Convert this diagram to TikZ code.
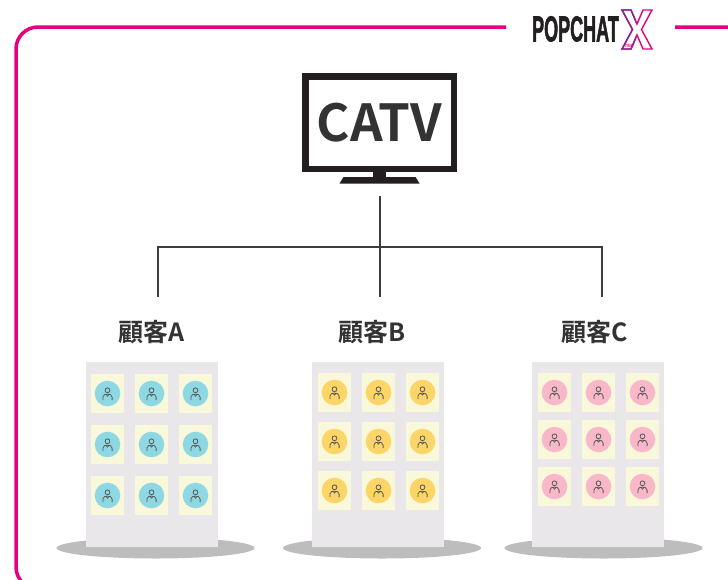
\documentclass[tikz,border=0pt]{standalone}
\usepackage{fontspec}
\setmainfont{Liberation Sans}
\newfontfamily\cjk{Noto Sans CJK JP}[BoldFont={Noto Sans CJK JP Bold}]
\newfontfamily\brandfont{Liberation Sans Bold}[FakeBold=2.2]
\usetikzlibrary{positioning,calc}
\definecolor{brandpink}{HTML}{E4007F}
\definecolor{brandviolet}{HTML}{7E2A92}
\definecolor{ink}{HTML}{333333}
\definecolor{tvblack}{HTML}{231F20}
\definecolor{wirecol}{HTML}{3C3C3C}
\definecolor{wall}{HTML}{E9E7EA}
\definecolor{ground}{HTML}{BDBDBD}
\definecolor{pane}{HTML}{FAF8DA}
\definecolor{dotA}{HTML}{8ED8E3}
\definecolor{dotB}{HTML}{FBD567}
\definecolor{dotC}{HTML}{F8B8CA}
\definecolor{usercol}{HTML}{5A5A5A}

\begin{document}
\begin{tikzpicture}[x=1pt,y=-1pt,
  frame/.style={draw=brandpink,line width=3.5pt,rounded corners=22pt},
  wire/.style={draw=wirecol,line width=2pt},
  cust/.style={font=\cjk\bfseries\fontsize{25}{25}\selectfont,text=ink},
  screen/.style={draw=tvblack,line width=6.5pt,fill=white,minimum width=148.5pt,
                 minimum height=92.5pt,inner sep=0pt,
                 font=\cjk\bfseries\fontsize{51}{51}\selectfont,text=ink},
  usericon/.pic={
    \draw[usercol,line width=0.8pt] (0,-3.2) circle (2.4pt);
    \draw[usercol,line width=0.8pt,line join=round]
      (-4.6,6.5) -- (-4.6,3.6) .. controls (-4.6,1.2) and (-2.2,0.6) .. (0,0.6)
      .. controls (2.2,0.6) and (4.6,1.2) .. (4.6,3.6) -- (4.6,6.5);
    \draw[usercol,line width=0.7pt] (-1.6,0.8) -- (0,2.6) -- (1.6,0.8);}]
\useasboundingbox (0,0) rectangle (728,579);
\clip (0,0) rectangle (728,579);

% outer frame, open at the top for the logo
\draw[frame] (506,27) -| (16,589) -| (748,27) -- (675,27);

% logo
\node[font=\brandfont\fontsize{36}{36}\selectfont,text=tvblack,inner sep=0pt]
  (brand) at (575.5,29) {\scalebox{0.5}[1]{POPCHAT}};
\def\xlogo{(622,10) -- (631,10) -- (637,24) -- (643,10) -- (652,10) -- (641.5,29.5)
  -- (652,49) -- (643,49) -- (637,35) -- (631,49) -- (622,49) -- (632.5,29.5) -- cycle}
\draw[brandpink,line width=1.4pt,line join=miter] \xlogo;
\begin{scope}
  \clip (618,0) rectangle (636,55);
  \draw[brandviolet,line width=1.4pt,line join=miter] \xlogo;
\end{scope}
\node[font=\bfseries\fontsize{4.5}{4.5}\selectfont,text=brandpink,inner sep=0pt]
  (ten) at (629,45.5) {TEN};

% television
\node[screen] (tv) at (379.5,122.5) {CATV};
\fill[tvblack] (373,172) rectangle (386,177.5);
\fill[tvblack] (343.5,177) -- (415.5,177) -- (419.5,183.5) -- (339.5,183.5) -- cycle;

% distribution lines
\coordinate (feed) at (380,196);
\coordinate (hub) at (380,247);
\coordinate (dropA) at (158,297);
\coordinate (dropB) at (380,297);
\coordinate (dropC) at (602,297);
\draw[wire] (feed) -- (dropB);
\draw[wire] (dropA) |- (hub) -| (dropC);

% customer labels
\node[cust] (custA) at (151.5,332) {顧客A};
\node[cust] (custB) at (372.5,332) {顧客B};
\node[cust] (custC) at (595,332) {顧客C};

% buildings with 3x3 windows
\foreach \bx/\wx/\wy/\rp/\col/\sx in {86/91/374/51/dotA/155.5,
                                      312/318/373/49/dotB/382,
                                      532/538/373/47/dotC/603.5}{
  \fill[ground] (\sx,548) ellipse [x radius=99, y radius=10.5];
  \fill[wall] (\bx,362) rectangle ++(132,185);
  \foreach \i in {0,1,2}
    \foreach \j in {0,1,2}{
      \fill[pane] (\wx+44*\i,\wy+\rp*\j) rectangle ++(33,39);
      \fill[\col] (\wx+44*\i+16.5,\wy+\rp*\j+19.5) circle (12.8pt);
      \pic at (\wx+44*\i+16.5,\wy+\rp*\j+19.5) {usericon};
    }
}
\end{tikzpicture}
\end{document}
